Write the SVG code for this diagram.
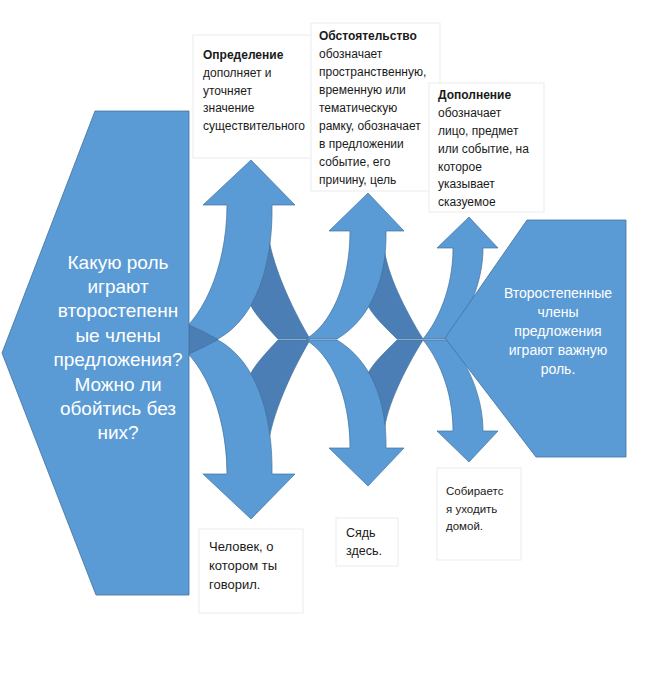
<svg xmlns="http://www.w3.org/2000/svg" width="653" height="674" viewBox="0 0 653 674">
<style>
.lt{fill:#5B9BD5;stroke:#41719C;stroke-width:0.7}
.dk{fill:#4A7EB5;stroke:#41719C;stroke-width:0.7}
.pent{fill:#5B9BD5;stroke:#41719C;stroke-width:0.8}
.box{fill:#FFFFFF;stroke:#EBEBEB;stroke-width:1}
.t{font-family:"Liberation Sans",Arial,sans-serif;font-size:12px;fill:#1a1a1a}
.tb{font-weight:bold}
.t2{font-family:"Liberation Sans",Arial,sans-serif;font-size:13px;fill:#1a1a1a}
.w1{font-family:"Liberation Sans",Arial,sans-serif;font-size:19px;fill:#FFFFFF;text-anchor:middle}
.w2{font-family:"Liberation Sans",Arial,sans-serif;font-size:14px;fill:#FFFFFF;text-anchor:middle}
</style>
<rect width="653" height="674" fill="#FFFFFF"/>
<defs>
<g id="upset">
<path class="dk" d="M278,339 C266,326 254,314 248,300 L238,240 L268,232 C271,262 290,305 310,339 Z"/>
<path class="dk" d="M397,339 C385,327 373,316 367,304 L358,255 L384,246 C386,272 405,310 423,339 Z"/>
<path class="lt" d="M170,339 C200,325 227,270 227,205 L203,205 L251,160 L295,205 L272,205 C273,265 256,318 218,339 Z"/>
<path class="lt" d="M306,339 C330,325 350,285 350,231 L329,231 L368,193 L404,231 L386,231 C387,276 372,318 337,339 Z"/>
<path class="lt" d="M423,339 C437,322 453,290 453,248 L437,248 L469,217 L498,248 L483,248 C483,284 466,320 447,339 Z"/>
</g>
</defs>
<g id="connectors">
<use href="#upset"/>
<use href="#upset" transform="matrix(1 0 0 -1 0 679)"/>
<path class="dk" d="M189,325 Q205,332 218,339.5 Q205,347 189,354 Z"/>
</g>
<g id="question">
<polygon class="pent" points="95,111 189,111 189,595 96,595 2,353"/>
<text class="w1"><tspan x="118" y="268.5">Какую роль</tspan><tspan x="118" y="292.9">играют</tspan><tspan x="118" y="317.3">второстепенн</tspan><tspan x="118" y="341.7">ые члены</tspan><tspan x="118" y="366.1">предложения?</tspan><tspan x="118" y="390.5">Можно ли</tspan><tspan x="118" y="414.9">обойтись без</tspan><tspan x="118" y="439.3">них?</tspan></text>
</g>
<g id="answer">
<polygon class="pent" points="527,220 626,220 626,457 536,457 445,338"/>
<text class="w2"><tspan x="558" y="298">Второстепенные</tspan><tspan x="558" y="317">члены</tspan><tspan x="558" y="336">предложения</tspan><tspan x="558" y="355">играют важную</tspan><tspan x="558" y="374">роль.</tspan></text>
</g>
<g id="opredelenie">
<rect class="box" x="193" y="35" width="125" height="123"/>
<text class="t"><tspan x="203" y="59.3" class="tb">Определение</tspan><tspan x="203" y="77">дополняет и</tspan><tspan x="203" y="94.7">уточняет</tspan><tspan x="203" y="112.4">значение</tspan><tspan x="203" y="130.1">существительного</tspan></text>
</g>
<g id="obstoyatelstvo">
<rect class="box" x="311" y="23" width="129" height="168"/>
<text class="t"><tspan x="319" y="40.3" class="tb">Обстоятельство</tspan><tspan x="319" y="58.2">обозначает</tspan><tspan x="319" y="76.1">пространственную,</tspan><tspan x="319" y="94">временную или</tspan><tspan x="319" y="111.9">тематическую</tspan><tspan x="319" y="129.8">рамку, обозначает</tspan><tspan x="319" y="147.7">в предложении</tspan><tspan x="319" y="165.6">событие, его</tspan><tspan x="319" y="183.5">причину, цель</tspan></text>
</g>
<g id="dopolnenie">
<rect class="box" x="429" y="83" width="115" height="129"/>
<text class="t"><tspan x="438" y="99.3" class="tb">Дополнение</tspan><tspan x="438" y="117.1">обозначает</tspan><tspan x="438" y="134.9">лицо, предмет</tspan><tspan x="438" y="152.7">или событие, на</tspan><tspan x="438" y="170.5">которое</tspan><tspan x="438" y="188.3">указывает</tspan><tspan x="438" y="206.1">сказуемое</tspan></text>
</g>
<g id="example1">
<rect class="box" x="199" y="529" width="104" height="84"/>
<text class="t2"><tspan x="209" y="550.5">Человек, о</tspan><tspan x="209" y="569.5">котором ты</tspan><tspan x="209" y="588.5">говорил.</tspan></text>
</g>
<g id="example2">
<rect class="box" x="336" y="518" width="62" height="48"/>
<text class="t2" style="font-size:12.5px"><tspan x="346" y="536.5">Сядь</tspan><tspan x="346" y="554.5">здесь.</tspan></text>
</g>
<g id="example3">
<rect class="box" x="437" y="468" width="84" height="92"/>
<text class="t" style="font-size:11.5px"><tspan x="446" y="495">Собираетс</tspan><tspan x="446" y="513">я уходить</tspan><tspan x="446" y="530">домой.</tspan></text>
</g>
</svg>
